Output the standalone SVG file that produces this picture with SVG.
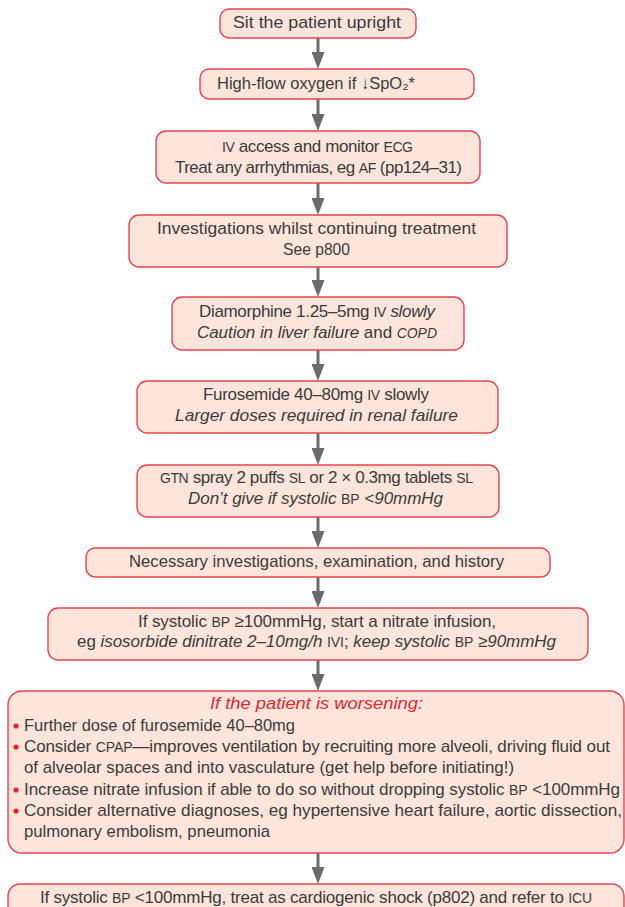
<svg xmlns="http://www.w3.org/2000/svg" width="625" height="907" viewBox="0 0 625 907">
<style>
.box{fill:#fde5dc;stroke:#e8434e;stroke-width:1.4}
.t{font-family:"Liberation Sans",Arial,sans-serif;font-size:17px;fill:#3b3b3b}
.sc{font-size:14px}
.i{font-style:italic}
.red{fill:#e3262f}
.bul{fill:#e3262f}
.con{stroke:#6b6b6b;stroke-width:3;fill:none}
</style>
<defs>
<marker id="ah" markerUnits="userSpaceOnUse" markerWidth="17" markerHeight="13" refX="3" refY="6.5" orient="auto">
<path d="M0,0 L17,6.5 L0,13 z" fill="#6b6b6b"/>
</marker>
</defs>
<rect width="625" height="907" fill="#ffffff"/>
<g id="connectors">
<line class="con" x1="318" y1="38" x2="318" y2="55" marker-end="url(#ah)"/>
<line class="con" x1="318" y1="99" x2="318" y2="117" marker-end="url(#ah)"/>
<line class="con" x1="318" y1="183" x2="318" y2="201" marker-end="url(#ah)"/>
<line class="con" x1="318" y1="267" x2="318" y2="283" marker-end="url(#ah)"/>
<line class="con" x1="318" y1="350" x2="318" y2="367" marker-end="url(#ah)"/>
<line class="con" x1="318" y1="433" x2="318" y2="451" marker-end="url(#ah)"/>
<line class="con" x1="318" y1="517" x2="318" y2="534" marker-end="url(#ah)"/>
<line class="con" x1="318" y1="577" x2="318" y2="594" marker-end="url(#ah)"/>
<line class="con" x1="318" y1="660" x2="318" y2="677" marker-end="url(#ah)"/>
<line class="con" x1="318" y1="853" x2="318" y2="870" marker-end="url(#ah)"/>
</g>
<g id="n1">
<rect class="box" x="220" y="9" width="196" height="29" rx="9"/>
<text class="t" x="233" y="28" textLength="168" lengthAdjust="spacingAndGlyphs">Sit the patient upright</text>
</g>
<g id="n2">
<rect class="box" x="200" y="69" width="274" height="30" rx="9"/>
<text class="t" x="217" y="89" textLength="198" lengthAdjust="spacingAndGlyphs">High-flow oxygen if ↓SpO₂*</text>
</g>
<g id="n3">
<rect class="box" x="156" y="131" width="324" height="52" rx="10"/>
<text class="t" x="222" y="152" textLength="191" lengthAdjust="spacing"><tspan class="sc">IV</tspan> access and monitor <tspan class="sc">ECG</tspan></text>
<text class="t" x="175" y="173" textLength="287" lengthAdjust="spacing">Treat any arrhythmias, eg <tspan class="sc">AF</tspan> (pp124–31)</text>
</g>
<g id="n4">
<rect class="box" x="129" y="215" width="378" height="52" rx="10"/>
<text class="t" x="157" y="234" textLength="319" lengthAdjust="spacingAndGlyphs">Investigations whilst continuing treatment</text>
<text class="t" x="283" y="255" textLength="67" lengthAdjust="spacingAndGlyphs">See p800</text>
</g>
<g id="n5">
<rect class="box" x="172" y="297" width="292" height="53" rx="10"/>
<text class="t" x="199" y="317" textLength="236" lengthAdjust="spacing">Diamorphine 1.25–5mg <tspan class="sc">IV</tspan> <tspan class="i">slowly</tspan></text>
<text class="t" x="197" y="338" textLength="240" lengthAdjust="spacing"><tspan class="i">Caution in liver failure</tspan> and <tspan class="sc i">COPD</tspan></text>
</g>
<g id="n6">
<rect class="box" x="137" y="381" width="361" height="52" rx="10"/>
<text class="t" x="203" y="400" textLength="226" lengthAdjust="spacing">Furosemide 40–80mg <tspan class="sc">IV</tspan> slowly</text>
<text class="t i" x="175" y="421" textLength="283" lengthAdjust="spacingAndGlyphs">Larger doses required in renal failure</text>
</g>
<g id="n7">
<rect class="box" x="137" y="465" width="362" height="52" rx="10"/>
<text class="t" x="160" y="483" textLength="313" lengthAdjust="spacing"><tspan class="sc">GTN</tspan> spray 2 puffs <tspan class="sc">SL</tspan> or 2 × 0.3mg tablets <tspan class="sc">SL</tspan></text>
<text class="t" x="188" y="504" textLength="255" lengthAdjust="spacing"><tspan class="i">Don’t give if systolic</tspan> <tspan class="sc">BP</tspan> <tspan class="i">&lt;90mmHg</tspan></text>
</g>
<g id="n8">
<rect class="box" x="86" y="548" width="464" height="29" rx="9"/>
<text class="t" x="129" y="567" textLength="375" lengthAdjust="spacingAndGlyphs">Necessary investigations, examination, and history</text>
</g>
<g id="n9">
<rect class="box" x="48" y="608" width="540" height="52" rx="10"/>
<text class="t" x="138" y="627" textLength="358" lengthAdjust="spacing">If systolic <tspan class="sc">BP</tspan> ≥100mmHg, start a nitrate infusion,</text>
<text class="t" x="77" y="647" textLength="479" lengthAdjust="spacing">eg <tspan class="i">isosorbide dinitrate 2–10mg/h</tspan> <tspan class="sc">IVI</tspan>; <tspan class="i">keep systolic</tspan> <tspan class="sc">BP</tspan> <tspan class="i">≥90mmHg</tspan></text>
</g>
<g id="n10">
<rect class="box" x="8" y="691" width="616" height="162" rx="14"/>
<text class="t i red" x="210" y="709" textLength="213" lengthAdjust="spacingAndGlyphs">If the patient is worsening:</text>
<circle class="bul" cx="16" cy="726" r="2.6"/>
<text class="t" x="24" y="731" textLength="271" lengthAdjust="spacingAndGlyphs">Further dose of furosemide 40–80mg</text>
<circle class="bul" cx="16" cy="747" r="2.6"/>
<text class="t" x="24" y="752" textLength="586" lengthAdjust="spacing">Consider <tspan class="sc">CPAP</tspan>—improves ventilation by recruiting more alveoli, driving fluid out</text>
<text class="t" x="24" y="773" textLength="490" lengthAdjust="spacingAndGlyphs">of alveolar spaces and into vasculature (get help before initiating!)</text>
<circle class="bul" cx="16" cy="790" r="2.6"/>
<text class="t" x="24" y="795" textLength="596" lengthAdjust="spacing">Increase nitrate infusion if able to do so without dropping systolic <tspan class="sc">BP</tspan> &lt;100mmHg</text>
<circle class="bul" cx="16" cy="811" r="2.6"/>
<text class="t" x="24" y="816" textLength="598" lengthAdjust="spacingAndGlyphs">Consider alternative diagnoses, eg hypertensive heart failure, aortic dissection,</text>
<text class="t" x="24" y="837" textLength="246" lengthAdjust="spacingAndGlyphs">pulmonary embolism, pneumonia</text>
</g>
<g id="n11">
<rect class="box" x="8" y="884" width="616" height="40" rx="12"/>
<text class="t" x="40" y="903" textLength="552" lengthAdjust="spacing">If systolic <tspan class="sc">BP</tspan> &lt;100mmHg, treat as cardiogenic shock (p802) and refer to <tspan class="sc">ICU</tspan></text>
</g>
</svg>
